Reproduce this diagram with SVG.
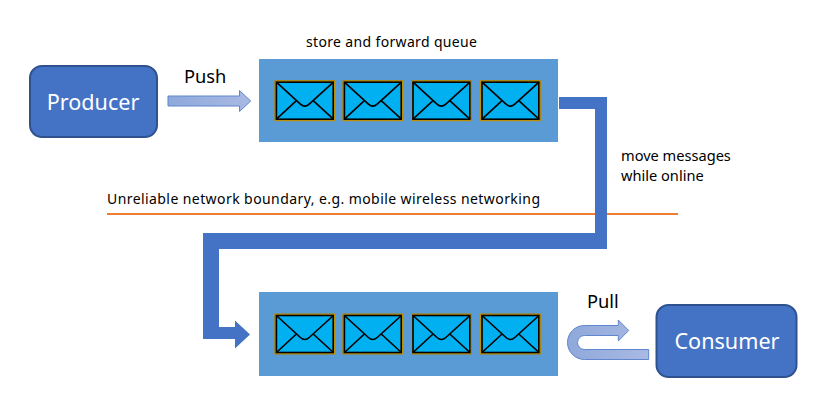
<svg xmlns="http://www.w3.org/2000/svg" width="816" height="417" viewBox="0 0 816 417">
<style>
text{font-family:"Noto Sans","Open Sans","DejaVu Sans",sans-serif;fill:#000}
.box{fill:#4472c4;stroke:#2f528f;stroke-width:2}
.boxtext{fill:#fff;font-size:21.600px;text-anchor:middle}
.queue{fill:#5b9bd5}
.small{font-size:14px}
.note{font-size:14.600px}
.big{font-size:18.300px}
.fat{fill:#4472c4}
.soft{fill:url(#soft);stroke:#5f86cf;stroke-width:1}
.env-border{fill:#00b0f0;stroke:#000;stroke-width:2.4}
.env-outer{fill:none;stroke:#bf8f00;stroke-width:1.2}
.env-line{fill:none;stroke:#000;stroke-width:1.6}
</style>
<defs>
<linearGradient id="soft" x1="0" x2="1" y1="0" y2="0"><stop offset="0" stop-color="#8fa9db"/><stop offset="1" stop-color="#a9b9e2"/></linearGradient>
<g id="env">
<rect class="env-border" x="1.600" y="1.600" width="57.600" height="37.800"/>
<rect class="env-outer" x="0.600" y="0.600" width="59.600" height="39.800"/>
<path class="env-line" d="M2 2L26 24Q30.400 28 34.800 24L59 2M2 39L22 20.500M59 39L38.800 20.500"/>
</g>
</defs>
<rect width="816" height="417" fill="#fff"/>
<g id="boundary">
<line x1="107" y1="214" x2="678" y2="214" stroke="#ed7d31" stroke-width="1.800"/>
<text class="small" x="107" y="204" textLength="433">Unreliable network boundary, e.g. mobile wireless networking</text>
</g>
<g id="connectors">
<path class="soft" d="M168 96H239.500V90.500L250.700 101L239.500 111.500V106H168Z"/>
<path class="fat" d="M559 97H607V249H219V327H235V320.500L250 334.500L235 348.500V339H203V233H595V109H559Z"/>
<path class="soft" d="M648.700 349.500V359.500H584.500A17 17 0 0 1 584.500 325.500H618.300V320L628.700 330.500L618.300 341V335.500H584.500A7 7 0 0 0 584.500 349.500Z"/>
</g>
<g id="producer">
<rect class="box" x="30" y="66" width="127" height="71" rx="12"/>
<text class="boxtext" x="93" y="110">Producer</text>
</g>
<g id="consumer">
<rect class="box" x="656.500" y="305" width="140" height="72" rx="12"/>
<text class="boxtext" x="727" y="349">Consumer</text>
</g>
<g id="queue-top">
<rect class="queue" x="259" y="59" width="299" height="83"/>
<use href="#env" x="274.400" y="80.200"/>
<use href="#env" x="342.400" y="80.200"/>
<use href="#env" x="411" y="80.200"/>
<use href="#env" x="480" y="80.200"/>
</g>
<g id="queue-bottom">
<rect class="queue" x="259" y="292" width="299" height="84"/>
<use href="#env" x="274.400" y="313.500"/>
<use href="#env" x="342.400" y="313.500"/>
<use href="#env" x="411" y="313.500"/>
<use href="#env" x="480" y="313.500"/>
</g>
<g id="labels">
<text class="small" x="306" y="47" textLength="171">store and forward queue</text>
<text class="big" x="184" y="83">Push</text>
<text class="big" x="587" y="308">Pull</text>
<text class="note" x="621" y="161">move messages</text>
<text class="note" x="621" y="181">while online</text>
</g>
</svg>
